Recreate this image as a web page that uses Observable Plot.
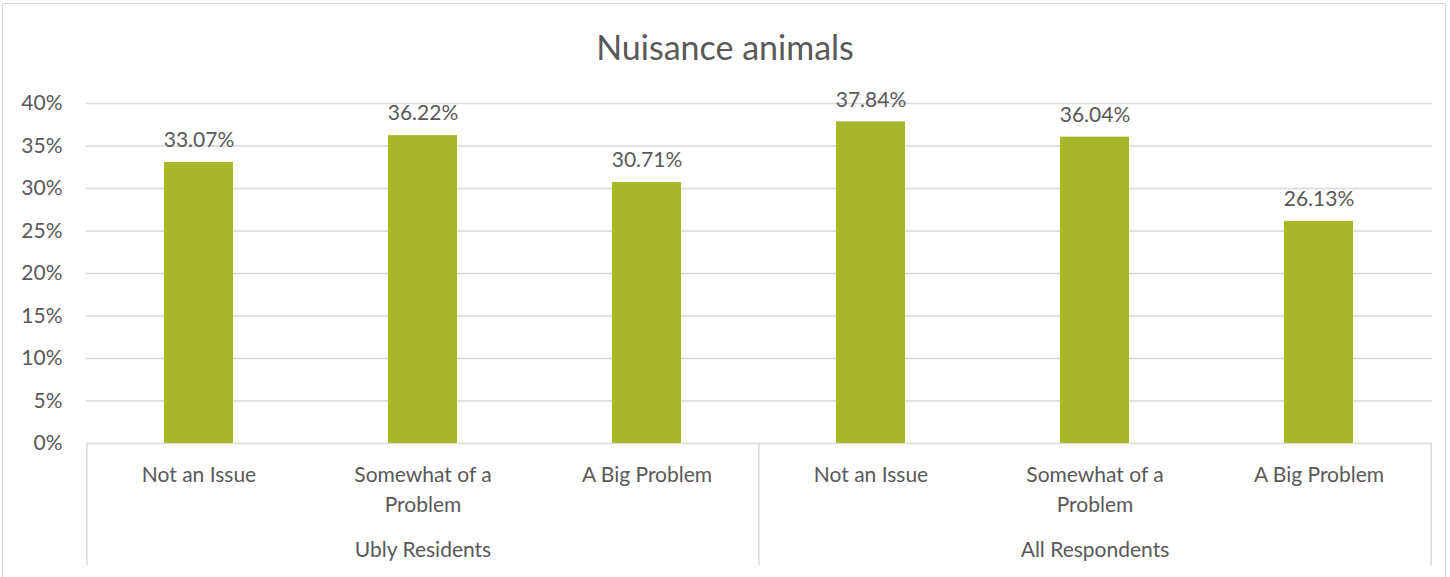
<!DOCTYPE html>
<html>
<head>
<meta charset="utf-8">
<script src="https://cdn.jsdelivr.net/npm/d3@7"></script>
<script src="https://cdn.jsdelivr.net/npm/@observablehq/plot@0.6"></script>
<style>
  html, body { margin: 0; padding: 0; background: #fff; }
  body { width: 1450px; height: 577px; position: relative; overflow: hidden; font-family: Lato, "Open Sans", sans-serif; }
  #frame { position: absolute; left: 2px; top: 3px; width: 1444px; height: 640px; border: 1px solid #d9d9d9; box-sizing: border-box; }
  #title { position: absolute; left: 0; top: 27px; width: 1450px; text-align: center; font-size: 34px; line-height: 40px; color: #595959; }
  #chart { position: absolute; left: 0; top: 80px; }
</style>
</head>
<body>
<div id="frame"></div>
<div id="title">Nuisance animals</div>
<div id="chart"></div>
<script>
const groups = ["Ubly Residents", "All Respondents"];
const categories = ["Not an Issue", "Somewhat of a\nProblem", "A Big Problem"];
const ublyValues = [0.3307, 0.3622, 0.3071];
const allValues = [0.3784, 0.3604, 0.2613];
const yTicks = [0, 0.05, 0.10, 0.15, 0.20, 0.25, 0.30, 0.35, 0.40];

const seriesByGroup = [ublyValues, allValues];
const data = [];
groups.forEach((g, gi) => categories.forEach((c, ci) => {
  data.push({group: g, category: c, key: g + "|" + c, value: seriesByGroup[gi][ci]});
}));
const keys = data.map(d => d.key);
const groupLabels = groups.map(g => ({group: g, key: g + "|" + categories[1]}));
const firstKeys = groups.map(g => g + "|" + categories[0]);
const lastKey = keys[keys.length - 1];

const W = 1450, H = 497, mL = 86, mR = 18, mT = 23, mB = 134;
const step = (W - mL - mR) / keys.length;
const gray = "#595959", grid = "#d9d9d9", green = "#a6b82a";
const font = 'Lato, "Open Sans", sans-serif';
const fs = 21;

const chart = Plot.plot({
  width: W, height: H,
  marginLeft: mL, marginRight: mR, marginTop: mT, marginBottom: mB,
  style: {fontFamily: font, fontSize: fs + "px", color: gray, background: "transparent", overflow: "visible"},
  x: {type: "band", domain: keys, paddingInner: 0.69, paddingOuter: 0.345, axis: null},
  y: {domain: [0, 0.4], ticks: yTicks, tickFormat: d => Math.round(d * 100) + "%", label: null},
  marks: [
    Plot.ruleY(yTicks, {y: d => d, stroke: grid, strokeWidth: 1.5}),
    Plot.axisY({ticks: yTicks, tickSize: 0, tickPadding: 24, tickFormat: d => Math.round(d * 100) + "%", fontSize: fs, fill: gray, label: null}),
    Plot.barY(data, {x: "key", y: "value", fill: green}),
    Plot.text(data, {x: "key", y: "value", text: d => (d.value * 100).toFixed(2) + "%", lineAnchor: "middle", dy: -22, fontSize: fs, fill: gray}),
    Plot.text(data, {x: "key", y: () => 0, text: "category", lineAnchor: "top", dy: 17, lineHeight: 1.43, fontSize: fs, fill: gray}),
    Plot.text(groupLabels, {x: "key", y: () => 0, text: "group", lineAnchor: "middle", dy: 107, fontSize: fs, fill: gray}),
    Plot.ruleX(firstKeys, {x: d => d, dx: -step / 2, y1: () => 0, insetBottom: -122, stroke: grid, strokeWidth: 1.5}),
    Plot.ruleX([lastKey], {x: d => d, dx: step / 2, y1: () => 0, insetBottom: -122, stroke: grid, strokeWidth: 1.5})
  ]
});
document.getElementById("chart").appendChild(chart);
</script>
</body>
</html>
